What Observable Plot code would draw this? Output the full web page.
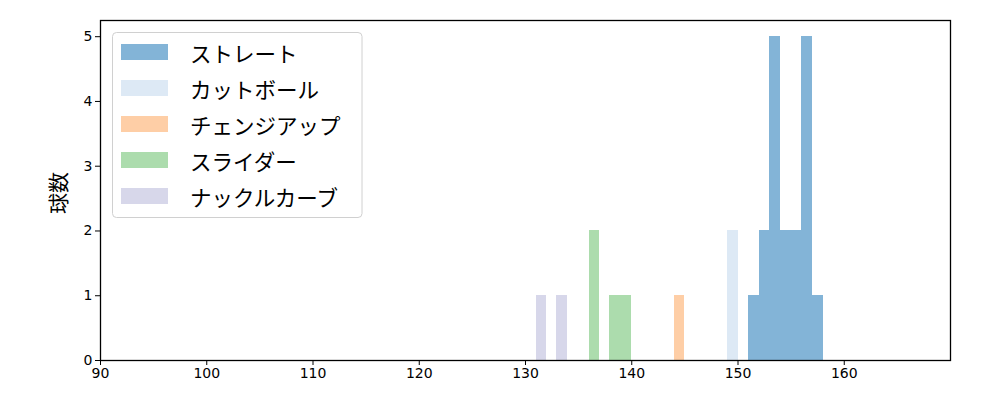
<!DOCTYPE html>
<html>
<head>
<meta charset="utf-8">
<script src="https://cdn.jsdelivr.net/npm/d3@7"></script>
<script src="https://cdn.jsdelivr.net/npm/@observablehq/plot@0.6"></script>
<style>
  html, body { margin: 0; padding: 0; background: #fff; }
  #chart { width: 1000px; height: 400px; }
</style>
</head>
<body>
<div id="chart"></div>
<script>
// ---- Data ----
const pitchTypes = ["ストレート", "カットボール", "チェンジアップ", "スライダー", "ナックルカーブ"];
const pitchColors = ["#83b4d7", "#dde9f5", "#fecea6", "#acdcad", "#d7d7ea"];

const straightEdges = [151, 152, 153, 154, 155, 156, 157, 158];
const straightCounts = [1, 2, 5, 2, 2, 5, 1];
const cutEdges = [149.0, 150.0];
const cutCounts = [2];
const changeEdges = [144.0, 144.95];
const changeCounts = [1];
const sliderEdges = [136.0, 136.95, 137.95, 138.95, 139.95];
const sliderCounts = [2, 0, 1, 1];
const knuckleEdges = [131.0, 131.95, 132.95, 133.95];
const knuckleCounts = [1, 0, 1];

const xTicks = [90, 100, 110, 120, 130, 140, 150, 160];
const yTicks = [0, 1, 2, 3, 4, 5];
const yLabel = "球数";

// ---- Build table ----
const series = [
  [straightEdges, straightCounts],
  [cutEdges, cutCounts],
  [changeEdges, changeCounts],
  [sliderEdges, sliderCounts],
  [knuckleEdges, knuckleCounts]
];
const bins = [];
series.forEach(([edges, counts], i) => {
  counts.forEach((c, j) => {
    if (c > 0) bins.push({type: pitchTypes[i], x1: edges[j], x2: edges[j + 1], count: c});
  });
});

const font = "'Noto Sans CJK JP', 'DejaVu Sans', sans-serif";
const tickFont = "'DejaVu Sans', sans-serif";

const plot = Plot.plot({
  width: 1000,
  height: 400,
  marginLeft: 100,
  marginRight: 50,
  marginTop: 20,
  marginBottom: 40,
  style: {fontFamily: tickFont, fontSize: "14px", color: "#000", background: "#fff"},
  x: {domain: [90, 170]},
  y: {domain: [0, 5.25]},
  color: {domain: pitchTypes, range: pitchColors},
  marks: [
    Plot.rectY(bins, {x1: "x1", x2: "x2", y1: 0, y2: "count", fill: "type", inset: 0, shapeRendering: "crispEdges"}),
    Plot.axisX({ticks: xTicks, tickSize: 5, tickPadding: 3, tickFormat: d => String(d), label: null, fontSize: 14, strokeWidth: 1}),
    Plot.axisY({ticks: yTicks, tickSize: 5, tickPadding: 3, tickFormat: d => String(d), label: null, fontSize: 14, strokeWidth: 1}),
    Plot.frame({stroke: "#000", strokeWidth: 1.3})
  ]
});
document.getElementById("chart").appendChild(plot);

// ---- Y-axis label and legend ----
const svg = d3.select(plot);
svg.append("text")
  .attr("transform", "translate(57,193) rotate(-90)")
  .attr("text-anchor", "middle")
  .attr("dominant-baseline", "central")
  .style("font-family", font)
  .style("font-size", "21px")
  .attr("fill", "#000")
  .text(yLabel);

const lg = svg.append("g");
lg.append("rect")
  .attr("x", 112.5).attr("y", 32.5).attr("width", 249.5).attr("height", 185)
  .attr("rx", 4).attr("ry", 4)
  .attr("fill", "#fff").attr("fill-opacity", 0.8)
  .attr("stroke", "#d0d0d0").attr("stroke-width", 1);
pitchTypes.forEach((t, i) => {
  const cy = 52 + i * 36;
  lg.append("rect")
    .attr("x", 121).attr("y", cy - 8).attr("width", 47).attr("height", 16)
    .attr("fill", pitchColors[i]);
  lg.append("text")
    .attr("x", 190).attr("y", cy)
    .attr("text-anchor", "start")
    .attr("dominant-baseline", "central")
    .style("font-family", font)
    .style("font-size", "21.5px")
    .attr("fill", "#000")
    .text(t);
});
</script>
</body>
</html>
